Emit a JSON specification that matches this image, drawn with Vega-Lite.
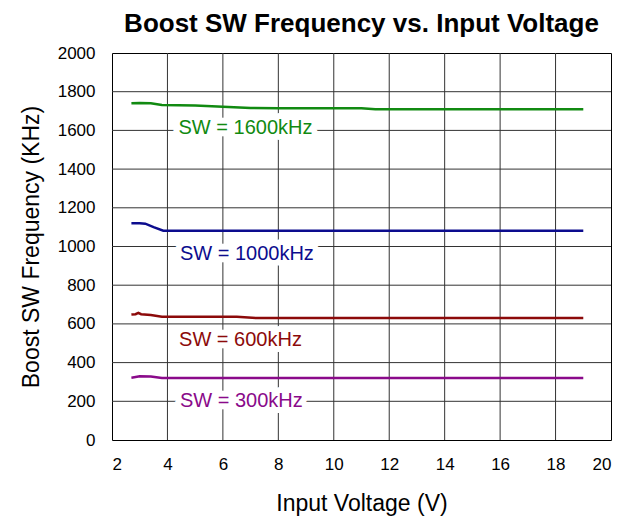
{
  "$schema": "https://vega.github.io/schema/vega-lite/v6.json",
  "width": 499,
  "height": 387,
  "autosize": {"type": "none"},
  "padding": {"left": 112, "top": 53, "right": 22, "bottom": 78},
  "background": "white",
  "title": {
    "text": "Boost SW Frequency vs. Input Voltage",
    "font": "Liberation Sans",
    "fontSize": 26,
    "fontWeight": "bold",
    "color": "#000000",
    "anchor": "middle",
    "offset": 7
  },
  "config": {
    "font": "Liberation Sans",
    "view": {"stroke": "#000000", "strokeWidth": 1},
    "axis": {
      "grid": false,
      "domain": false,
      "tickSize": 0,
      "labelOverlap": false,
      "labelFont": "Liberation Sans",
      "labelFontSize": 17,
      "labelColor": "#000000",
      "titleFont": "Liberation Sans",
      "titleFontSize": 23,
      "titleFontWeight": "normal",
      "titleColor": "#000000"
    }
  },
  "datasets": {
    "curves": [
      {"series": "SW = 1600kHz", "vin": 2.7, "freq": 1740},
      {"series": "SW = 1600kHz", "vin": 3.0, "freq": 1741},
      {"series": "SW = 1600kHz", "vin": 3.4, "freq": 1740},
      {"series": "SW = 1600kHz", "vin": 3.8, "freq": 1731},
      {"series": "SW = 1600kHz", "vin": 5.0, "freq": 1729},
      {"series": "SW = 1600kHz", "vin": 6.0, "freq": 1722},
      {"series": "SW = 1600kHz", "vin": 7.0, "freq": 1716},
      {"series": "SW = 1600kHz", "vin": 8.0, "freq": 1714},
      {"series": "SW = 1600kHz", "vin": 9.0, "freq": 1714},
      {"series": "SW = 1600kHz", "vin": 10.0, "freq": 1714},
      {"series": "SW = 1600kHz", "vin": 11.0, "freq": 1714},
      {"series": "SW = 1600kHz", "vin": 11.5, "freq": 1709},
      {"series": "SW = 1600kHz", "vin": 12.0, "freq": 1709},
      {"series": "SW = 1600kHz", "vin": 15.0, "freq": 1709},
      {"series": "SW = 1600kHz", "vin": 19.0, "freq": 1709},
      {"series": "SW = 1000kHz", "vin": 2.7, "freq": 1120},
      {"series": "SW = 1000kHz", "vin": 3.0, "freq": 1120},
      {"series": "SW = 1000kHz", "vin": 3.2, "freq": 1118},
      {"series": "SW = 1000kHz", "vin": 3.5, "freq": 1100},
      {"series": "SW = 1000kHz", "vin": 3.85, "freq": 1082},
      {"series": "SW = 1000kHz", "vin": 8.0, "freq": 1081},
      {"series": "SW = 1000kHz", "vin": 19.0, "freq": 1081},
      {"series": "SW = 600kHz", "vin": 2.7, "freq": 648},
      {"series": "SW = 600kHz", "vin": 2.85, "freq": 650},
      {"series": "SW = 600kHz", "vin": 2.95, "freq": 657},
      {"series": "SW = 600kHz", "vin": 3.05, "freq": 650},
      {"series": "SW = 600kHz", "vin": 3.4, "freq": 646},
      {"series": "SW = 600kHz", "vin": 3.8, "freq": 637},
      {"series": "SW = 600kHz", "vin": 6.5, "freq": 637},
      {"series": "SW = 600kHz", "vin": 7.2, "freq": 630},
      {"series": "SW = 600kHz", "vin": 19.0, "freq": 630},
      {"series": "SW = 300kHz", "vin": 2.7, "freq": 322},
      {"series": "SW = 300kHz", "vin": 3.0, "freq": 329},
      {"series": "SW = 300kHz", "vin": 3.4, "freq": 328},
      {"series": "SW = 300kHz", "vin": 3.8, "freq": 320},
      {"series": "SW = 300kHz", "vin": 19.0, "freq": 320}
    ],
    "labels": [
      {"series": "SW = 1600kHz", "vin": 4.4, "freq": 1610},
      {"series": "SW = 1000kHz", "vin": 4.45, "freq": 961},
      {"series": "SW = 600kHz", "vin": 4.42, "freq": 519},
      {"series": "SW = 300kHz", "vin": 4.45, "freq": 204}
    ],
    "vgrid": [
      {"vin": 4}, {"vin": 6}, {"vin": 8}, {"vin": 10}, {"vin": 12}, {"vin": 14}, {"vin": 16}, {"vin": 18}
    ],
    "hgrid": [
      {"freq": 200}, {"freq": 400}, {"freq": 600}, {"freq": 800}, {"freq": 1000}, {"freq": 1200}, {"freq": 1400}, {"freq": 1600}, {"freq": 1800}
    ]
  },
  "layer": [
    {
      "data": {"name": "vgrid"},
      "mark": {"type": "rule", "color": "#333333", "strokeWidth": 1},
      "encoding": {
        "x": {
          "field": "vin", "type": "quantitative", "scale": {"domain": [2, 20], "nice": false},
          "axis": {"values": [2, 4, 6, 8, 10, 12, 14, 16, 18, 20], "format": "d", "labelOverlap": false, "title": "Input Voltage (V)", "labelPadding": 16, "titlePadding": 20}
        }
      }
    },
    {
      "data": {"name": "hgrid"},
      "mark": {"type": "rule", "color": "#333333", "strokeWidth": 1},
      "encoding": {
        "y": {
          "field": "freq", "type": "quantitative", "scale": {"domain": [0, 2000], "nice": false},
          "axis": {"values": [0, 200, 400, 600, 800, 1000, 1200, 1400, 1600, 1800, 2000], "format": "d", "labelOverlap": false, "title": "Boost SW Frequency (KHz)", "labelPadding": 17, "titlePadding": 14}
        }
      }
    },
    {
      "data": {"name": "curves"},
      "mark": {"type": "line", "strokeWidth": 2.5, "interpolate": "linear"},
      "encoding": {
        "x": {
          "field": "vin", "type": "quantitative", "scale": {"domain": [2, 20], "nice": false},
          "axis": {"values": [2, 4, 6, 8, 10, 12, 14, 16, 18, 20], "format": "d", "labelOverlap": false, "title": "Input Voltage (V)", "labelPadding": 16, "titlePadding": 20}
        },
        "y": {
          "field": "freq", "type": "quantitative", "scale": {"domain": [0, 2000], "nice": false},
          "axis": {"values": [0, 200, 400, 600, 800, 1000, 1200, 1400, 1600, 1800, 2000], "format": "d", "labelOverlap": false, "title": "Boost SW Frequency (KHz)", "labelPadding": 17, "titlePadding": 14}
        },
        "color": {
          "field": "series",
          "type": "nominal",
          "scale": {
            "domain": ["SW = 1600kHz", "SW = 1000kHz", "SW = 600kHz", "SW = 300kHz"],
            "range": ["#118a11", "#0c0c8e", "#8c0a0a", "#8a0a8a"]
          },
          "legend": null
        }
      }
    },
    {
      "data": {"name": "labels"},
      "mark": {"type": "text", "align": "left", "baseline": "middle", "fontSize": 20, "font": "Liberation Sans", "stroke": "white", "strokeWidth": 12, "strokeJoin": "round", "fill": "white"},
      "encoding": {
        "x": {
          "field": "vin", "type": "quantitative", "scale": {"domain": [2, 20], "nice": false},
          "axis": {"values": [2, 4, 6, 8, 10, 12, 14, 16, 18, 20], "format": "d", "labelOverlap": false, "title": "Input Voltage (V)", "labelPadding": 16, "titlePadding": 20}
        },
        "y": {
          "field": "freq", "type": "quantitative", "scale": {"domain": [0, 2000], "nice": false},
          "axis": {"values": [0, 200, 400, 600, 800, 1000, 1200, 1400, 1600, 1800, 2000], "format": "d", "labelOverlap": false, "title": "Boost SW Frequency (KHz)", "labelPadding": 17, "titlePadding": 14}
        },
        "text": {"field": "series"}
      }
    },
    {
      "data": {"name": "labels"},
      "mark": {"type": "text", "align": "left", "baseline": "middle", "fontSize": 20, "font": "Liberation Sans"},
      "encoding": {
        "x": {
          "field": "vin", "type": "quantitative", "scale": {"domain": [2, 20], "nice": false},
          "axis": {"values": [2, 4, 6, 8, 10, 12, 14, 16, 18, 20], "format": "d", "labelOverlap": false, "title": "Input Voltage (V)", "labelPadding": 16, "titlePadding": 20}
        },
        "y": {
          "field": "freq", "type": "quantitative", "scale": {"domain": [0, 2000], "nice": false},
          "axis": {"values": [0, 200, 400, 600, 800, 1000, 1200, 1400, 1600, 1800, 2000], "format": "d", "labelOverlap": false, "title": "Boost SW Frequency (KHz)", "labelPadding": 17, "titlePadding": 14}
        },
        "text": {"field": "series"},
        "color": {
          "field": "series",
          "type": "nominal",
          "scale": {
            "domain": ["SW = 1600kHz", "SW = 1000kHz", "SW = 600kHz", "SW = 300kHz"],
            "range": ["#118a11", "#0c0c8e", "#8c0a0a", "#8a0a8a"]
          },
          "legend": null
        }
      }
    }
  ]
}
